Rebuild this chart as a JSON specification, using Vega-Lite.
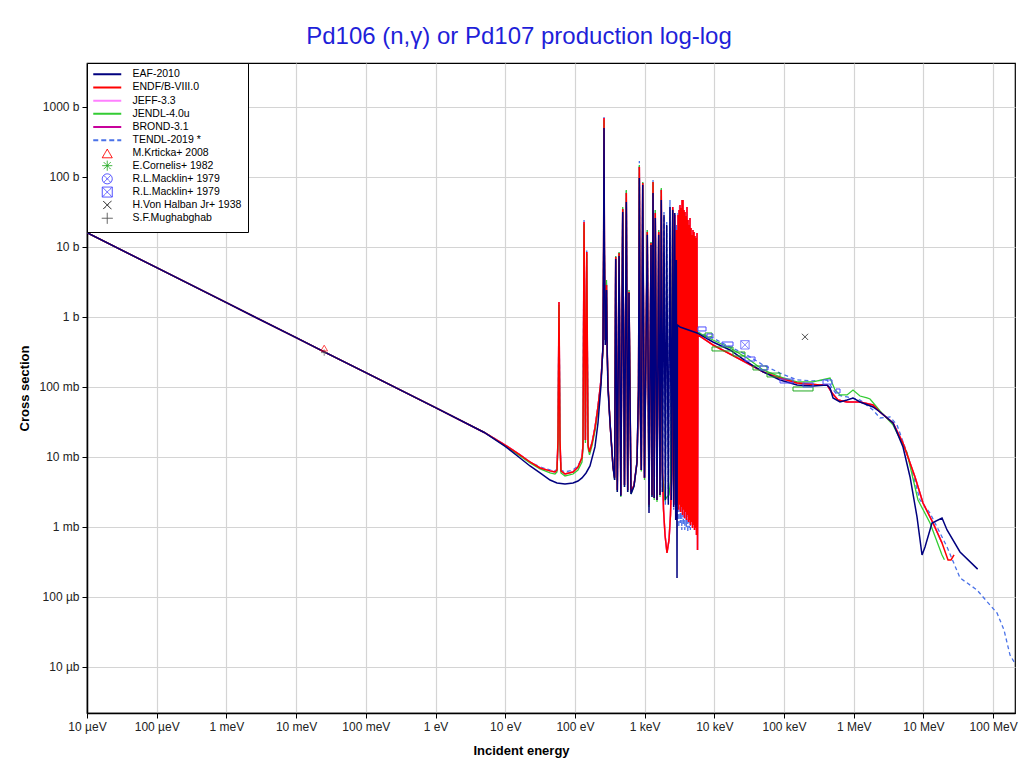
{
"$schema": "https://vega.github.io/schema/vega-lite/v6.json",
"width": 928, "height": 650,
"autosize": {"type": "none"},
"padding": {"left": 87, "top": 63, "right": 9, "bottom": 61},
"background": "white",
"title": {"text": "Pd106 (n,γ) or Pd107 production log-log", "fontSize": 24, "fontWeight": "normal", "color": "#1f1fd9", "font": "Liberation Sans", "offset": 14, "dx": -32},
"config": {
 "font": "Liberation Sans",
 "view": {"stroke": "#000", "strokeWidth": 1.2},
 "axis": {"gridColor": "#d4d4d4", "gridWidth": 1.2, "domainColor": "#000", "domainWidth": 1.5, "tickColor": "#000", "tickSize": 5, "labelFontSize": 12, "labelColor": "#222", "labelFont": "Liberation Sans", "titleFont": "Liberation Sans", "titleFontSize": 13, "titleFontWeight": "bold", "titleColor": "#000", "labelFlush": false, "labelOverlap": false, "labelPadding": 3},
 "axisX": {"titlePadding": 12},
 "axisY": {"titlePadding": 7}
},
"datasets": {
"endf": [
{"E":1e-5,"xs":16.0},{"E":1e-4,"xs":5.06},{"E":1e-3,"xs":1.60},{"E":0.01,"xs":0.506},{"E":0.0253,"xs":0.318},{"E":0.1,"xs":0.160},{"E":1,"xs":0.0506},{"E":5,"xs":0.0224},{"E":10,"xs":0.0148},{"E":16.3,"xs":0.0107},{"E":22.7,"xs":0.00848},{"E":31.6,"xs":0.00697},{"E":44,"xs":0.00633},{"E":51.8,"xs":0.00611},{"E":55.3,"xs":0.00652},{"E":57.2,"xs":0.0175},{"E":59.1,"xs":1.64},{"E":61.1,"xs":0.0175},{"E":63.1,"xs":0.00633},{"E":72.1,"xs":0.00571},{"E":94,"xs":0.00611},{"E":110.7,"xs":0.0072},{"E":126.4,"xs":0.0098},{"E":130.6,"xs":0.0148},{"E":135.2,"xs":22.8},{"E":141.5,"xs":0.0175},{"E":147.8,"xs":8.48},{"E":154.2,"xs":0.0148},{"E":161.9,"xs":0.0118},{"E":175.8,"xs":0.0158},{"E":194.1,"xs":0.0261},{"E":214.3,"xs":0.0518},{"E":236.8,"xs":0.126},{"E":253,"xs":0.373},{"E":258.1,"xs":9.03},{"E":261.6,"xs":696},{"E":265.1,"xs":9.03},{"E":272.2,"xs":0.469},{"E":279.4,"xs":0.906},{"E":284,"xs":2.87},{"E":290.7,"xs":0.338},{"E":298.6,"xs":0.107},{"E":319.2,"xs":0.0306},{"E":352.1,"xs":0.0072},{"E":371.5,"xs":0.00503},{"E":384.8,"xs":7.2},{"E":406,"xs":0.00338},{"E":430,"xs":8.21},{"E":455.9,"xs":0.00287},{"E":485,"xs":34.9},{"E":514.4,"xs":0.00398},{"E":546.4,"xs":59.1},{"E":572,"xs":0.00338},{"E":597,"xs":2.28},{"E":637.7,"xs":0.00316},{"E":705,"xs":0.00398},{"E":778,"xs":0.00848},{"E":817.4,"xs":0.0906},{"E":840.2,"xs":139},{"E":864.7,"xs":0.0652},{"E":896.8,"xs":0.00652},{"E":939.4,"xs":82.1},{"E":996.3,"xs":0.00503},{"E":1092.7,"xs":16.4},{"E":1156,"xs":0.00208},{"E":1235,"xs":11.4},{"E":1276,"xs":0.00287},{"E":1320,"xs":84.8},{"E":1373,"xs":0.0026},{"E":1423,"xs":30.6},{"E":1506,"xs":0.00243},{"E":1592,"xs":16.4},{"E":1663,"xs":0.00287},{"E":1735,"xs":65.2},{"E":1802,"xs":0.00652},{"E":1868,"xs":0.00176},{"E":1963,"xs":0.000769},{"E":2094,"xs":0.000425},{"E":2239,"xs":0.000652},{"E":2350,"xs":0.00148},{"E":2457,"xs":0.00652},{"E":2530,"xs":37.3},{"E":2612,"xs":0.00208},{"E":2704,"xs":28.7},{"E":2793,"xs":0.00176},{"E":2863,"xs":17.5},{"E":2966,"xs":0.00208},{"E":3013,"xs":28.7},{"E":3063,"xs":0.00176},{"E":3119,"xs":33.8},{"E":3171,"xs":0.00208},{"E":3221,"xs":39.8},{"E":3275,"xs":0.00164},{"E":3327,"xs":36.1},{"E":3382,"xs":0.00193},{"E":3443,"xs":46.9},{"E":3500,"xs":0.00148},{"E":3556,"xs":46.9},{"E":3615,"xs":0.00176},{"E":3673,"xs":33.8},{"E":3734,"xs":0.00134},{"E":3802,"xs":31.6},{"E":3865,"xs":0.00164},{"E":3926,"xs":27.7},{"E":3991,"xs":0.00126},{"E":4055,"xs":37.3},{"E":4122,"xs":0.00148},{"E":4198,"xs":24.3},{"E":4268,"xs":0.00118},{"E":4335,"xs":20.6},{"E":4407,"xs":0.00126},{"E":4477,"xs":26.0},{"E":4552,"xs":0.00107},{"E":4634,"xs":18.7},{"E":4711,"xs":0.00118},{"E":4786,"xs":14.8},{"E":4866,"xs":0.000968},{"E":4943,"xs":17.5},{"E":5025,"xs":0.00107},{"E":5117,"xs":16.4},{"E":5202,"xs":0.000906},{"E":5284,"xs":14.4},{"E":5372,"xs":0.000968},{"E":5458,"xs":13.4},{"E":5549,"xs":0.000769},{"E":5649,"xs":15.8},{"E":5743,"xs":0.000469},
{"E":5834,"xs":0.553},{"E":9573,"xs":0.398},{"E":16790,"xs":0.296},{"E":29440,"xs":0.220},{"E":50000,"xs":0.164},{"E":87700,"xs":0.134},{"E":153800,"xs":0.114},{"E":328800,"xs":0.107},{"E":414000,"xs":0.107},{"E":488600,"xs":0.0821},{"E":595300,"xs":0.0652},{"E":801700,"xs":0.0611},{"E":1231000,"xs":0.0611},{"E":1892000,"xs":0.0553},{"E":2384000,"xs":0.0439},{"E":3664000,"xs":0.0306},{"E":5096000,"xs":0.0158},{"E":7570000,"xs":0.00518},{"E":9860000,"xs":0.0022},{"E":13740000,"xs":0.00114},{"E":18490000,"xs":0.000591},{"E":22540000,"xs":0.000338},{"E":24890000,"xs":0.000338},{"E":27500000,"xs":0.000398}
],
"eaf": [
{"E":1e-5,"xs":16.0},{"E":1e-4,"xs":5.06},{"E":1e-3,"xs":1.60},{"E":0.01,"xs":0.506},{"E":0.0253,"xs":0.318},{"E":0.1,"xs":0.160},{"E":1,"xs":0.0506},{"E":5,"xs":0.0224},{"E":10,"xs":0.0142},{"E":16.3,"xs":0.00968},{"E":22.7,"xs":0.00744},{"E":31.6,"xs":0.00591},{"E":44,"xs":0.00469},{"E":55.3,"xs":0.00425},{"E":72.1,"xs":0.00411},{"E":94,"xs":0.00425},{"E":110.7,"xs":0.00454},{"E":126.4,"xs":0.00503},{"E":144.5,"xs":0.00591},{"E":164.5,"xs":0.00744},{"E":194.1,"xs":0.0139},{"E":214.3,"xs":0.0306},{"E":236.8,"xs":0.107},{"E":253,"xs":0.398},{"E":258.1,"xs":9.03},{"E":261.6,"xs":501},{"E":265.1,"xs":9.03},{"E":272.2,"xs":0.398},{"E":279.4,"xs":0.652},{"E":284,"xs":2.43},{"E":290.7,"xs":0.286},{"E":298.6,"xs":0.0906},{"E":319.2,"xs":0.0306},{"E":352.1,"xs":0.0072},{"E":371.5,"xs":0.00469},{"E":384.8,"xs":6.74},{"E":406,"xs":0.00316},{"E":430,"xs":7.44},{"E":455.9,"xs":0.00277},{"E":485,"xs":31.6},{"E":514.4,"xs":0.00373},{"E":546.4,"xs":43.9},{"E":572,"xs":0.00316},{"E":597,"xs":2.2},{"E":637.7,"xs":0.00296},{"E":705,"xs":0.00385},{"E":778,"xs":0.00848},{"E":817.4,"xs":0.0906},{"E":840.2,"xs":96.8},{"E":864.7,"xs":0.0652},{"E":896.8,"xs":0.00652},{"E":939.4,"xs":76.9},{"E":996.3,"xs":0.00503},{"E":1092.7,"xs":14.9},{"E":1156,"xs":0.00158},{"E":1235,"xs":10.7},{"E":1276,"xs":0.00268},{"E":1320,"xs":59.1},{"E":1373,"xs":0.0026},{"E":1423,"xs":26.0},{"E":1506,"xs":0.00243},{"E":1592,"xs":14.9},{"E":1663,"xs":0.00287},{"E":1735,"xs":46.9},{"E":1802,"xs":0.00316},{"E":1897,"xs":28.7},{"E":1983,"xs":0.00243},{"E":2075,"xs":20.6},{"E":2189,"xs":0.00208},{"E":2312,"xs":37.3},{"E":2417,"xs":0.00243},{"E":2530,"xs":33.8},{"E":2612,"xs":0.00193},{"E":2704,"xs":30.6},{"E":2793,"xs":0.00126},{"E":2853,"xs":6.52},{"E":2917,"xs":0.000187},{"E":2956,"xs":0.769},
{"E":3221,"xs":0.72},{"E":5649,"xs":0.591},{"E":9573,"xs":0.439},{"E":16790,"xs":0.338},{"E":29440,"xs":0.228},{"E":50000,"xs":0.164},{"E":87700,"xs":0.126},{"E":153800,"xs":0.107},{"E":260800,"xs":0.103},{"E":414000,"xs":0.107},{"E":457100,"xs":0.0968},{"E":504700,"xs":0.0697},{"E":635600,"xs":0.0611},{"E":801700,"xs":0.0652},{"E":977000,"xs":0.0697},{"E":1231000,"xs":0.0611},{"E":1892000,"xs":0.0518},{"E":2384000,"xs":0.0439},{"E":3664000,"xs":0.0306},{"E":5096000,"xs":0.0139},{"E":6430000,"xs":0.00518},{"E":8090000,"xs":0.00139},{"E":9550000,"xs":0.000398},{"E":10540000,"xs":0.000518},{"E":13280000,"xs":0.00114},{"E":18490000,"xs":0.00134},{"E":21820000,"xs":0.000906},{"E":33500000,"xs":0.000439},{"E":60000000,"xs":0.00025}
],
"jendl": [
{"E":1e-5,"xs":16.0},{"E":1e-4,"xs":5.06},{"E":1e-3,"xs":1.60},{"E":0.01,"xs":0.506},{"E":0.0253,"xs":0.318},{"E":0.1,"xs":0.160},{"E":1,"xs":0.0506},{"E":5,"xs":0.0226},{"E":10,"xs":0.0144},{"E":16.3,"xs":0.0103},{"E":22.7,"xs":0.0082},{"E":31.6,"xs":0.00674},{"E":44,"xs":0.00591},{"E":51.8,"xs":0.00571},{"E":55.3,"xs":0.00611},{"E":57.2,"xs":0.0148},{"E":59.1,"xs":1.48},{"E":61.1,"xs":0.0148},{"E":63.1,"xs":0.00591},{"E":72.1,"xs":0.00535},{"E":94,"xs":0.00571},{"E":110.7,"xs":0.00652},{"E":126.4,"xs":0.00848},{"E":130.6,"xs":0.01345},{"E":135.2,"xs":21.3},{"E":141.5,"xs":0.0158},{"E":147.8,"xs":7.94},{"E":154.2,"xs":0.0134},{"E":161.9,"xs":0.0107},{"E":175.8,"xs":0.0144},{"E":194.1,"xs":0.0235},{"E":214.3,"xs":0.0485},{"E":236.8,"xs":0.118},{"E":253,"xs":0.349},{"E":258.1,"xs":9.03},{"E":261.6,"xs":652},{"E":265.1,"xs":9.03},{"E":272.2,"xs":0.469},{"E":279.4,"xs":1.07},{"E":284,"xs":3.38},{"E":290.7,"xs":0.338},{"E":298.6,"xs":0.107},{"E":319.2,"xs":0.0306},{"E":352.1,"xs":0.0072},{"E":371.5,"xs":0.00469},{"E":384.8,"xs":7.44},{"E":406,"xs":0.00316},{"E":430,"xs":8.48},{"E":455.9,"xs":0.00268},{"E":485,"xs":37.3},{"E":514.4,"xs":0.00371},{"E":546.4,"xs":65.2},{"E":572,"xs":0.00316},{"E":597,"xs":2.43},{"E":637.7,"xs":0.00296},{"E":705,"xs":0.00385},{"E":778,"xs":0.0082},{"E":817.4,"xs":0.0875},{"E":840.2,"xs":148},{"E":864.7,"xs":0.062},{"E":896.8,"xs":0.0062},{"E":939.4,"xs":84.8},{"E":996.3,"xs":0.00469},{"E":1092.7,"xs":17.5},{"E":1156,"xs":0.00193},{"E":1235,"xs":11.8},{"E":1276,"xs":0.00268},{"E":1320,"xs":84.8},{"E":1373,"xs":0.00243},{"E":1423,"xs":33.8},{"E":1506,"xs":0.00227},{"E":1592,"xs":17.5},{"E":1663,"xs":0.00268},{"E":1735,"xs":69.7},{"E":1802,"xs":0.0056},{"E":1963,"xs":0.00243},{"E":2094,"xs":0.00268},{"E":2239,"xs":0.00287},{"E":2350,"xs":0.0045},{"E":2530,"xs":34.9},{"E":2612,"xs":0.00243},{"E":2686,"xs":0.848},
{"E":5649,"xs":0.611},{"E":7362,"xs":0.535},{"E":9573,"xs":0.469},{"E":16790,"xs":0.361},{"E":29440,"xs":0.26},{"E":50000,"xs":0.175},{"E":87700,"xs":0.139},{"E":153800,"xs":0.118},{"E":260800,"xs":0.118},{"E":457100,"xs":0.134},{"E":539500,"xs":0.0906},{"E":635600,"xs":0.0769},{"E":801700,"xs":0.0769},{"E":977000,"xs":0.0906},{"E":1231000,"xs":0.0743},{"E":1552000,"xs":0.0697},{"E":1714000,"xs":0.0674},{"E":2021000,"xs":0.0553},{"E":2384000,"xs":0.0454},{"E":3664000,"xs":0.0287},{"E":5820000,"xs":0.0114},{"E":8360000,"xs":0.00243},{"E":12440000,"xs":0.00114},{"E":18490000,"xs":0.000398},{"E":20000000,"xs":0.00034}
],
"tendl": [
{"E":1e-5,"xs":16.0},{"E":1e-4,"xs":5.06},{"E":1e-3,"xs":1.60},{"E":0.01,"xs":0.506},{"E":0.0253,"xs":0.318},{"E":0.1,"xs":0.160},{"E":1,"xs":0.0506},{"E":5,"xs":0.0226},{"E":10,"xs":0.0148},{"E":16.3,"xs":0.0107},{"E":22.7,"xs":0.00848},{"E":31.6,"xs":0.0072},{"E":44,"xs":0.00652},{"E":51.8,"xs":0.00633},{"E":55.3,"xs":0.00674},{"E":57.2,"xs":0.0175},{"E":59.1,"xs":1.585},{"E":61.1,"xs":0.0175},{"E":63.1,"xs":0.00652},{"E":72.1,"xs":0.00611},{"E":94,"xs":0.00652},{"E":110.7,"xs":0.00744},{"E":126.4,"xs":0.01},{"E":130.6,"xs":0.01535},{"E":135.2,"xs":24.3},{"E":141.5,"xs":0.0175},{"E":147.8,"xs":9.03},{"E":154.2,"xs":0.0153},{"E":161.9,"xs":0.0122},{"E":175.8,"xs":0.0164},{"E":194.1,"xs":0.0269},{"E":214.3,"xs":0.0536},{"E":236.8,"xs":0.13},{"E":253,"xs":0.385},{"E":258.1,"xs":9.03},{"E":261.6,"xs":720},{"E":265.1,"xs":9.03},{"E":272.2,"xs":0.501},{"E":279.4,"xs":0.968},{"E":284,"xs":3.16},{"E":290.7,"xs":0.338},{"E":298.6,"xs":0.107},{"E":319.2,"xs":0.0306},{"E":352.1,"xs":0.0072},{"E":371.5,"xs":0.00503},{"E":384.8,"xs":7.44},{"E":406,"xs":0.00338},{"E":430,"xs":8.48},{"E":455.9,"xs":0.00287},{"E":485,"xs":37.3},{"E":514.4,"xs":0.00398},{"E":546.4,"xs":65.2},{"E":572,"xs":0.00338},{"E":597,"xs":2.43},{"E":637.7,"xs":0.00316},{"E":705,"xs":0.00398},{"E":778,"xs":0.00848},{"E":817.4,"xs":0.0906},{"E":840.2,"xs":169},{"E":864.7,"xs":0.0652},{"E":896.8,"xs":0.00652},{"E":939.4,"xs":87.7},{"E":996.3,"xs":0.00503},{"E":1092.7,"xs":17.5},{"E":1156,"xs":0.00208},{"E":1235,"xs":11.8},{"E":1276,"xs":0.00287},{"E":1320,"xs":90.6},{"E":1373,"xs":0.0026},{"E":1423,"xs":33.8},{"E":1506,"xs":0.00243},{"E":1592,"xs":17.5},{"E":1663,"xs":0.00287},{"E":1735,"xs":69.7},{"E":1802,"xs":0.00316},{"E":1897,"xs":31.6},{"E":1983,"xs":0.00208},{"E":2075,"xs":22.8},{"E":2189,"xs":0.00243},{"E":2312,"xs":46.9},{"E":2417,"xs":0.00208},{"E":2530,"xs":37.3},{"E":2612,"xs":0.00176},{"E":2704,"xs":31.6},{"E":2793,"xs":0.00148},{"E":2853,"xs":20.6},{"E":2936,"xs":0.00126},{"E":3013,"xs":31.6},{"E":3094,"xs":0.001},{"E":3171,"xs":39.8},{"E":3253,"xs":0.00114},{"E":3327,"xs":36.1},{"E":3416,"xs":0.000906},{"E":3500,"xs":46.9},{"E":3592,"xs":0.00107},{"E":3673,"xs":33.8},{"E":3771,"xs":0.000906},{"E":3865,"xs":30.6},{"E":3965,"xs":0.001},{"E":4055,"xs":37.3},{"E":4164,"xs":0.000848},{"E":4268,"xs":24.3},{"E":4378,"xs":0.000968},{"E":4477,"xs":26.0},{"E":4537,"xs":0.000906},
{"E":4567,"xs":0.697},{"E":5649,"xs":0.611},{"E":9573,"xs":0.501},{"E":16790,"xs":0.373},{"E":29440,"xs":0.286},{"E":50000,"xs":0.206},{"E":87700,"xs":0.158},{"E":153800,"xs":0.126},{"E":260800,"xs":0.122},{"E":414000,"xs":0.126},{"E":488600,"xs":0.0968},{"E":575400,"xs":0.0769},{"E":801700,"xs":0.072},{"E":1231000,"xs":0.0652},{"E":1892000,"xs":0.0469},{"E":2384000,"xs":0.0361},{"E":3319000,"xs":0.0373},{"E":4180000,"xs":0.0287},{"E":5820000,"xs":0.0114},{"E":8930000,"xs":0.00243},{"E":12440000,"xs":0.00158},{"E":21820000,"xs":0.000518},{"E":33500000,"xs":0.000187},{"E":58700000,"xs":0.000126},{"E":71600000,"xs":0.0001},{"E":113800000,"xs":0.0000591},{"E":143200000,"xs":0.0000338},{"E":174700000,"xs":0.0000148},{"E":200000000,"xs":0.0000118}
]
},
"layer": [
{"data": {"name": "tendl"}, "mark": {"type": "line", "strokeWidth": 1.3, "strokeDash": [4, 3], "clip": true},
 "encoding": {
  "x": {"field": "E", "type": "quantitative", "title": "Incident energy", "scale": {"type": "log", "domain": [1e-5, 2.06e8], "nice": false},
        "axis": {"values": [1e-5,1e-4,1e-3,1e-2,1e-1,1,10,100,1000,1e4,1e5,1e6,1e7,1e8], "labelExpr": "['10 µeV','100 µeV','1 meV','10 meV','100 meV','1 eV','10 eV','100 eV','1 keV','10 keV','100 keV','1 MeV','10 MeV','100 MeV'][round(log(datum.value)/LN10)+5]", "titleX": 434}},
  "y": {"field": "xs", "type": "quantitative", "title": "Cross section", "scale": {"type": "log", "domain": [2.2e-6, 4250], "nice": false},
        "axis": {"values": [1e-5,1e-4,1e-3,1e-2,0.1,1,10,100,1000], "labelExpr": "['10 µb','100 µb','1 mb','10 mb','100 mb','1 b','10 b','100 b','1000 b'][round(log(datum.value)/LN10)+5]"}},
  "color": {"datum": "TENDL-2019 *", "type": "nominal",
    "scale": {"domain": ["EAF-2010","ENDF/B-VIII.0","JEFF-3.3","JENDL-4.0u","BROND-3.1","TENDL-2019 *","M.Krticka+ 2008","E.Cornelis+ 1982","R.L.Macklin+ 1979","R.L.Macklin+ 1979 ","H.Von Halban Jr+ 1938","S.F.Mughabghab"],
              "range": ["#00007f","#ff0000","#ff80ff","#33cc33","#c8009b","#4a72e8","#ff0000","#22aa22","#4d4dff","#4d4dff","#000000","#555555"]},
    "legend": {"title": null, "orient": "top-left", "offset": 0, "padding": 6, "fillColor": "white", "strokeColor": "black", "labelFontSize": 10.5, "labelFont": "Liberation Sans", "labelColor": "#000", "symbolSize": 100, "rowPadding": -1.8, "labelOffset": 20, "symbolOffset": 9, "labelLimit": 220,
      "encode": {"symbols": {"update": {
        "shape": {"signal": "['M-2.8,0H2.8M-2.8,-0.56L-2.8,-0.56M-2.8,0.56L-2.8,0.56','M-2.8,0H2.8M-2.8,-0.56L-2.8,-0.56M-2.8,0.56L-2.8,0.56','M-2.8,0H2.8M-2.8,-0.56L-2.8,-0.56M-2.8,0.56L-2.8,0.56','M-2.8,0H2.8M-2.8,-0.56L-2.8,-0.56M-2.8,0.56L-2.8,0.56','M-2.8,0H2.8M-2.8,-0.56L-2.8,-0.56M-2.8,0.56L-2.8,0.56','M-2.8,0H2.8M-2.8,-0.56L-2.8,-0.56M-2.8,0.56L-2.8,0.56','triangle-up','M0,-1V1M-1,0H1M-0.7,-0.7L0.7,0.7M-0.7,0.7L0.7,-0.7','M1,0A1,1,0,1,1,-1,0A1,1,0,1,1,1,0M-0.7,-0.7L0.7,0.7M-0.7,0.7L0.7,-0.7','M-1,-1H1V1H-1ZM-1,-1L1,1M-1,1L1,-1','M-0.8,-0.8L0.8,0.8M-0.8,0.8L0.8,-0.8','M0,-1.1V1.1M-1.1,0H1.1'][indexof(['EAF-2010','ENDF/B-VIII.0','JEFF-3.3','JENDL-4.0u','BROND-3.1','TENDL-2019 *','M.Krticka+ 2008','E.Cornelis+ 1982','R.L.Macklin+ 1979','R.L.Macklin+ 1979 ','H.Von Halban Jr+ 1938','S.F.Mughabghab'], datum.value)]"},
        "strokeDash": {"signal": "datum.value == 'TENDL-2019 *' ? [5,3] : [1,0]"},
        "strokeWidth": {"signal": "indexof(['EAF-2010','ENDF/B-VIII.0','JEFF-3.3','JENDL-4.0u','BROND-3.1','TENDL-2019 *'], datum.value) >= 0 ? 2 : 1"},
        "fill": {"value": "transparent"},
        "stroke": {"scale": "color", "field": "value"},
        "opacity": {"value": 1}
      }}}}
  }
 }},
{"data": {"name": "endf"}, "transform": [{"filter": "datum.E <= 2e7"}], "mark": {"type": "line", "strokeWidth": 1.4, "clip": true},
 "encoding": {"x": {"field": "E", "type": "quantitative", "title": "Incident energy"}, "y": {"field": "xs", "type": "quantitative", "title": "Cross section"}, "color": {"datum": "BROND-3.1", "type": "nominal"}}},
{"data": {"name": "endf"}, "transform": [{"filter": "datum.E <= 2e7"}], "mark": {"type": "line", "strokeWidth": 1.4, "clip": true},
 "encoding": {"x": {"field": "E", "type": "quantitative", "title": "Incident energy"}, "y": {"field": "xs", "type": "quantitative", "title": "Cross section"}, "color": {"datum": "JEFF-3.3", "type": "nominal"}}},
{"data": {"name": "jendl"}, "mark": {"type": "line", "strokeWidth": 1.3, "clip": true},
 "encoding": {"x": {"field": "E", "type": "quantitative", "title": "Incident energy"}, "y": {"field": "xs", "type": "quantitative", "title": "Cross section"}, "color": {"datum": "JENDL-4.0u", "type": "nominal"}}},
{"data": {"name": "endf"}, "mark": {"type": "line", "strokeWidth": 1.5, "clip": true},
 "encoding": {"x": {"field": "E", "type": "quantitative", "title": "Incident energy"}, "y": {"field": "xs", "type": "quantitative", "title": "Cross section"}, "color": {"datum": "ENDF/B-VIII.0", "type": "nominal"}}},
{"data": {"name": "eaf"}, "mark": {"type": "line", "strokeWidth": 1.5, "clip": true},
 "encoding": {"x": {"field": "E", "type": "quantitative", "title": "Incident energy"}, "y": {"field": "xs", "type": "quantitative", "title": "Cross section"}, "color": {"datum": "EAF-2010", "type": "nominal"}}},
{"data": {"values": [
  {"E1":7362,"E2":9268,"s1":0.518,"s2":0.591},{"E1":9268,"E2":18540,"s1":0.327,"s2":0.373},{"E1":18540,"E2":27540,"s1":0.277,"s2":0.316},{"E1":35890,"E2":57050,"s1":0.175,"s2":0.1995},{"E1":57050,"E2":87700,"s1":0.139,"s2":0.158},{"E1":134600,"E2":260800,"s1":0.0877,"s2":0.100}]},
 "mark": {"type": "rect", "filled": false, "strokeWidth": 1},
 "encoding": {"x": {"field": "E1", "type": "quantitative", "title": "Incident energy"}, "x2": {"field": "E2"}, "y": {"field": "s1", "type": "quantitative", "title": "Cross section"}, "y2": {"field": "s2"}, "color": {"datum": "E.Cornelis+ 1982", "type": "nominal"}}},
{"data": {"values": [
  {"E1":5834,"E2":7603,"s1":0.631,"s2":0.720},{"E1":7855,"E2":9573,"s1":0.501,"s2":0.572},{"E1":12880,"E2":18540,"s1":0.385,"s2":0.439},{"E1":27540,"E2":38370,"s1":0.235,"s2":0.268},{"E1":45290,"E2":58930,"s1":0.175,"s2":0.1995},{"E1":87700,"E2":134600,"s1":0.114,"s2":0.130},{"E1":187400,"E2":260800,"s1":0.100,"s2":0.114},{"E1":362700,"E2":488600,"s1":0.110,"s2":0.126},{"E1":557300,"E2":635600,"s1":0.0821,"s2":0.0936}]},
 "mark": {"type": "rect", "filled": false, "strokeWidth": 1},
 "encoding": {"x": {"field": "E1", "type": "quantitative", "title": "Incident energy"}, "x2": {"field": "E2"}, "y": {"field": "s1", "type": "quantitative", "title": "Cross section"}, "y2": {"field": "s2"}, "color": {"datum": "R.L.Macklin+ 1979", "type": "nominal"}}},
{"data": {"values": [{"E":27500,"xs":0.40}]},
 "mark": {"type": "point", "shape": "M-1,-1H1V1H-1ZM-1,-1L1,1M-1,1L1,-1", "filled": false, "size": 70, "strokeWidth": 1},
 "encoding": {"x": {"field": "E", "type": "quantitative", "title": "Incident energy"}, "y": {"field": "xs", "type": "quantitative", "title": "Cross section"}, "color": {"datum": "R.L.Macklin+ 1979 ", "type": "nominal"}}},
{"data": {"values": [{"E":200000,"xs":0.52}]},
 "mark": {"type": "point", "shape": "M-0.8,-0.8L0.8,0.8M-0.8,0.8L0.8,-0.8", "filled": false, "size": 60, "strokeWidth": 1},
 "encoding": {"x": {"field": "E", "type": "quantitative", "title": "Incident energy"}, "y": {"field": "xs", "type": "quantitative", "title": "Cross section"}, "color": {"datum": "H.Von Halban Jr+ 1938", "type": "nominal"}}},
{"data": {"values": [{"E":0.0253,"xs":0.31}]},
 "mark": {"type": "point", "shape": "M0,-1V1M-1,0H1", "filled": false, "size": 40, "strokeWidth": 1},
 "encoding": {"x": {"field": "E", "type": "quantitative", "title": "Incident energy"}, "y": {"field": "xs", "type": "quantitative", "title": "Cross section"}, "color": {"datum": "S.F.Mughabghab", "type": "nominal"}}},
{"data": {"values": [{"E":0.0253,"xs":0.36}]},
 "mark": {"type": "point", "shape": "triangle-up", "filled": false, "size": 45, "strokeWidth": 1},
 "encoding": {"x": {"field": "E", "type": "quantitative", "title": "Incident energy"}, "y": {"field": "xs", "type": "quantitative", "title": "Cross section"}, "color": {"datum": "M.Krticka+ 2008", "type": "nominal"}}}
]
}
